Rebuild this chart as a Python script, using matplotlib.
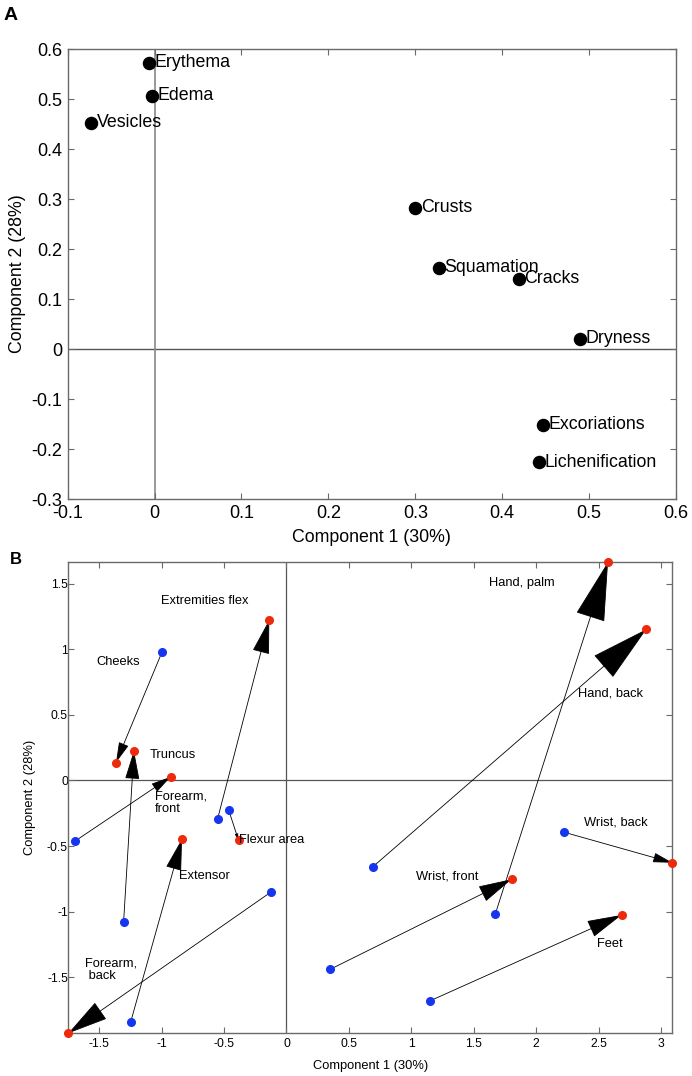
import numpy as np
import matplotlib
matplotlib.use('Agg')
import matplotlib.pyplot as plt
from matplotlib.ticker import FuncFormatter, FixedLocator

plt.rcParams['font.family'] = ['Liberation Sans', 'DejaVu Sans']
plt.rcParams['axes.unicode_minus'] = False

# ---------------- Panel A data ----------------
symptoms = ['Erythema', 'Edema', 'Vesicles', 'Crusts', 'Squamation', 'Cracks',
            'Dryness', 'Excoriations', 'Lichenification']
loading_c1 = [-0.006, -0.0025, -0.073, 0.300, 0.327, 0.419, 0.490, 0.447, 0.442]
loading_c2 = [0.573, 0.507, 0.453, 0.283, 0.163, 0.141, 0.021, -0.151, -0.226]
a_xticks = [-0.1, 0, 0.1, 0.2, 0.3, 0.4, 0.5, 0.6]
a_yticks = [-0.3, -0.2, -0.1, 0, 0.1, 0.2, 0.3, 0.4, 0.5, 0.6]

# ---------------- Panel B data ----------------
sites = ['Cheeks', 'Truncus', 'Extremities flex', 'Forearm,\nfront', 'Flexur area',
         'Extensor', 'Forearm,\n back', 'Hand, palm', 'Hand, back', 'Wrist, front',
         'Wrist, back', 'Feet']
start_c1 = [-0.998, -1.305, -0.552, -1.692, -0.464, -1.249, -0.124, 1.673, 0.693, 0.351, 2.226, 1.147]
start_c2 = [0.977, -1.079, -0.293, -0.461, -0.223, -1.843, -0.850, -1.018, -0.657, -1.439, -0.395, -1.681]
end_c1 = [-1.366, -1.222, -0.138, -0.929, -0.384, -0.837, -1.748, 2.576, 2.883, 1.804, 3.091, 2.685]
end_c2 = [0.136, 0.227, 1.223, 0.027, -0.456, -0.446, -1.927, 1.665, 1.152, -0.753, -0.627, -1.025]
b_xticks = [-1.5, -1, -0.5, 0, 0.5, 1, 1.5, 2, 2.5, 3]
b_yticks = [-1.5, -1, -0.5, 0, 0.5, 1, 1.5]

# label anchor positions (layout only)
label_pos = [(-1.524, 0.905), (-1.099, 0.194), (-1.003, 1.368), (-1.054, -0.168),
             (-0.378, -0.454), (-0.865, -0.728), (-1.615, -1.442), (1.625, 1.503),
             (2.338, 0.659), (1.038, -0.733), (2.386, -0.322), (2.485, -1.248)]

W, H = 692, 1076
fig = plt.figure(figsize=(W / 100, H / 100), dpi=100)

fmt = FuncFormatter(lambda v, p: f"{v:g}")
spine_col = '#6a6a6a'


def style(ax, fs, xpad, ypad):
    for s in ax.spines.values():
        s.set_color(spine_col)
        s.set_linewidth(1.0)
    ax.tick_params(direction='in', top=True, right=True, length=4, width=0.8,
                   color=spine_col, labelsize=fs)
    ax.tick_params(axis='x', pad=xpad)
    ax.tick_params(axis='y', pad=ypad)
    ax.xaxis.set_major_formatter(fmt)
    ax.yaxis.set_major_formatter(fmt)


# ---------------- Panel A ----------------
axA = fig.add_axes([67.6 / W, 1 - 499 / H, (676 - 67.6) / W, (499 - 49) / H])
axA.set_xlim(-0.1, 0.6)
axA.set_ylim(-0.3, 0.6)
axA.xaxis.set_major_locator(FixedLocator(a_xticks))
axA.yaxis.set_major_locator(FixedLocator(a_yticks))
style(axA, 13, 4, 4)
axA.axhline(0, color='#555555', lw=1.0, zorder=1)
axA.axvline(0, color='#888888', lw=1.2, zorder=1)
axA.plot(loading_c1, loading_c2, 'o', color='black', ms=8.7, zorder=3, clip_on=False)
for name, x, y in zip(symptoms, loading_c1, loading_c2):
    axA.annotate(name, (x, y), xytext=(4, 0), textcoords='offset points',
                 va='center', ha='left', fontsize=12.8, zorder=4)
axA.set_xlabel('Component 1 (30%)', fontsize=12.8, labelpad=5)
axA.set_ylabel('Component 2 (28%)', fontsize=12.8, labelpad=4)
fig.text(4 / W, 1 - 7 / H, 'A', fontsize=14, fontweight='bold', va='top', ha='left')

# ---------------- Panel B ----------------
axB = fig.add_axes([68.3 / W, 1 - 1033.3 / H, (672.3 - 68.3) / W, (1033.3 - 562) / H])
all_x = start_c1 + end_c1
all_y = start_c2 + end_c2
axB.set_xlim(min(all_x), max(all_x))
axB.set_ylim(min(all_y), max(all_y))
axB.xaxis.set_major_locator(FixedLocator(b_xticks))
axB.yaxis.set_major_locator(FixedLocator(b_yticks))
style(axB, 8.7, 3.5, 0.3)
axB.axhline(0, color='#555555', lw=0.9, zorder=1)
axB.axvline(0, color='#555555', lw=0.9, zorder=1)

fig.canvas.draw()
for xs, ys, xe, ye in zip(start_c1, start_c2, end_c1, end_c2):
    p0 = axB.transData.transform((xs, ys))
    p1 = axB.transData.transform((xe, ye))
    L = np.hypot(*(p1 - p0)) * 72 / fig.dpi
    hl = 0.15 * L
    hw = 0.25 * hl
    axB.annotate('', xy=(xe, ye), xytext=(xs, ys),
                 arrowprops=dict(arrowstyle=f'-|>,head_length={hl:.2f},head_width={hw:.2f}',
                                 mutation_scale=1, lw=0.6, color='black',
                                 shrinkA=0, shrinkB=0),
                 zorder=2, annotation_clip=False)

axB.plot(start_c1, start_c2, 'o', color='#1536ee', ms=5.5, zorder=3, clip_on=False)
axB.plot(end_c1, end_c2, 'o', color='#ee2a0c', ms=5.5, zorder=3, clip_on=False)
for name, (lx, ly) in zip(sites, label_pos):
    axB.text(lx, ly, name, fontsize=9.3, ha='left', va='center', linespacing=1.05, zorder=4)
axB.set_xlabel('Component 1 (30%)', fontsize=9.3, labelpad=7)
axB.set_ylabel('Component 2 (28%)', fontsize=9.3, labelpad=8)
fig.text(10 / W, 1 - 552 / H, 'B', fontsize=12, fontweight='bold', va='top', ha='left')

fig.savefig('out.png', dpi=100)
